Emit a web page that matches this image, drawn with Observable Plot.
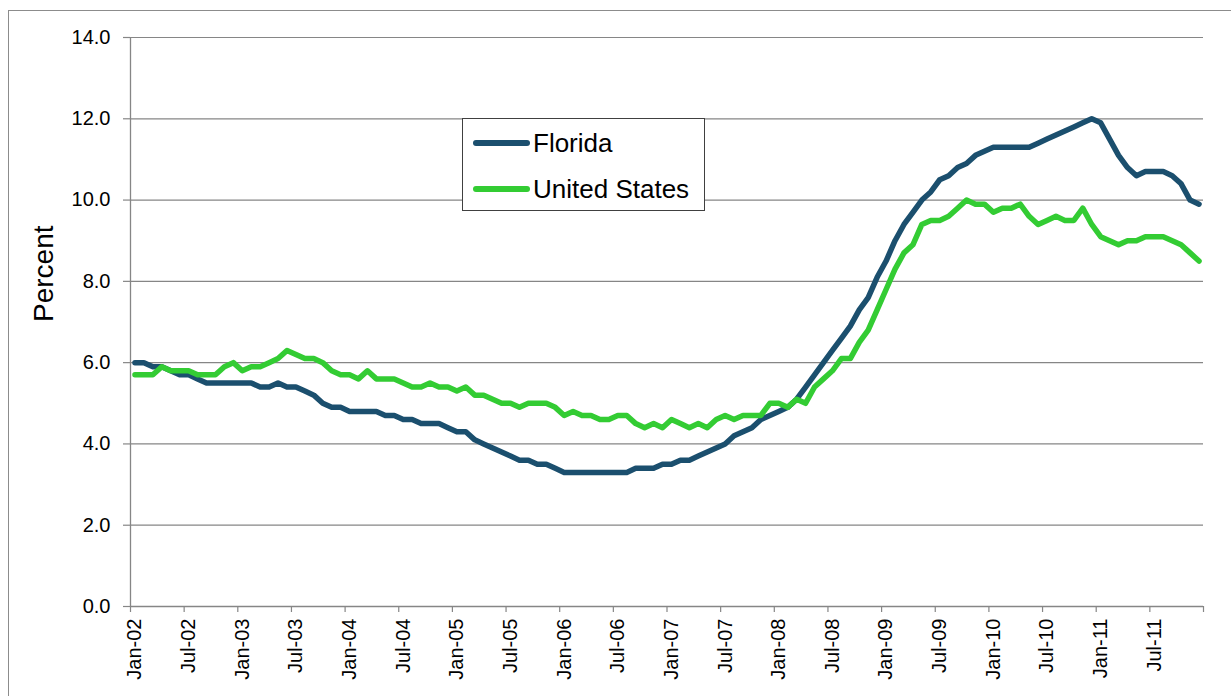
<!DOCTYPE html>
<html>
<head>
<meta charset="utf-8">
<script src="https://cdn.jsdelivr.net/npm/d3@7"></script>
<script src="https://cdn.jsdelivr.net/npm/@observablehq/plot@0.6"></script>
<style>
  html, body { margin: 0; padding: 0; background: #fff; overflow: hidden; }
  #wrap { position: relative; width: 1231px; height: 696px; font-family: "Liberation Sans", Arial, sans-serif; }
  #frame { position: absolute; left: 8px; top: 10px; width: 1300px; height: 800px; border: 1.5px solid #8c8c8c; box-sizing: border-box; }
  #chart { position: absolute; left: 0; top: 0; }
  #legend { position: absolute; left: 462px; top: 118px; width: 243px; height: 93px; border: 1.5px solid #404040; background: #fff; box-sizing: border-box; }
  .sw { position: absolute; left: 10px; width: 57px; height: 6px; border-radius: 3px; }
  .lb { position: absolute; left: 70px; font-size: 26px; line-height: 26px; color: #000; white-space: nowrap; }
</style>
</head>
<body>
<div id="wrap">
  <div id="frame"></div>
  <div id="chart"></div>
  <div id="legend"></div>
</div>
<script>
// Monthly unemployment rate, Jan 2002 - Dec 2011 (percent)
const seriesNames = ["Florida", "United States"];
const seriesColors = ["#1b4f6e", "#33cc33"];

const florida = [
  6.0, 6.0, 5.9, 5.9, 5.8, 5.7, 5.7, 5.6, 5.5, 5.5, 5.5, 5.5,   // 2002
  5.5, 5.5, 5.4, 5.4, 5.5, 5.4, 5.4, 5.3, 5.2, 5.0, 4.9, 4.9,   // 2003
  4.8, 4.8, 4.8, 4.8, 4.7, 4.7, 4.6, 4.6, 4.5, 4.5, 4.5, 4.4,   // 2004
  4.3, 4.3, 4.1, 4.0, 3.9, 3.8, 3.7, 3.6, 3.6, 3.5, 3.5, 3.4,   // 2005
  3.3, 3.3, 3.3, 3.3, 3.3, 3.3, 3.3, 3.3, 3.4, 3.4, 3.4, 3.5,   // 2006
  3.5, 3.6, 3.6, 3.7, 3.8, 3.9, 4.0, 4.2, 4.3, 4.4, 4.6, 4.7,   // 2007
  4.8, 4.9, 5.1, 5.4, 5.7, 6.0, 6.3, 6.6, 6.9, 7.3, 7.6, 8.1,   // 2008
  8.5, 9.0, 9.4, 9.7, 10.0, 10.2, 10.5, 10.6, 10.8, 10.9, 11.1, 11.2, // 2009
  11.3, 11.3, 11.3, 11.3, 11.3, 11.4, 11.5, 11.6, 11.7, 11.8, 11.9, 12.0, // 2010
  11.9, 11.5, 11.1, 10.8, 10.6, 10.7, 10.7, 10.7, 10.6, 10.4, 10.0, 9.9  // 2011
];

const unitedStates = [
  5.7, 5.7, 5.7, 5.9, 5.8, 5.8, 5.8, 5.7, 5.7, 5.7, 5.9, 6.0,   // 2002
  5.8, 5.9, 5.9, 6.0, 6.1, 6.3, 6.2, 6.1, 6.1, 6.0, 5.8, 5.7,   // 2003
  5.7, 5.6, 5.8, 5.6, 5.6, 5.6, 5.5, 5.4, 5.4, 5.5, 5.4, 5.4,   // 2004
  5.3, 5.4, 5.2, 5.2, 5.1, 5.0, 5.0, 4.9, 5.0, 5.0, 5.0, 4.9,   // 2005
  4.7, 4.8, 4.7, 4.7, 4.6, 4.6, 4.7, 4.7, 4.5, 4.4, 4.5, 4.4,   // 2006
  4.6, 4.5, 4.4, 4.5, 4.4, 4.6, 4.7, 4.6, 4.7, 4.7, 4.7, 5.0,   // 2007
  5.0, 4.9, 5.1, 5.0, 5.4, 5.6, 5.8, 6.1, 6.1, 6.5, 6.8, 7.3,   // 2008
  7.8, 8.3, 8.7, 8.9, 9.4, 9.5, 9.5, 9.6, 9.8, 10.0, 9.9, 9.9,  // 2009
  9.7, 9.8, 9.8, 9.9, 9.6, 9.4, 9.5, 9.6, 9.5, 9.5, 9.8, 9.4,   // 2010
  9.1, 9.0, 8.9, 9.0, 9.0, 9.1, 9.1, 9.1, 9.0, 8.9, 8.7, 8.5    // 2011
];

const xTickLabels = [
  "Jan-02", "Jul-02", "Jan-03", "Jul-03", "Jan-04", "Jul-04", "Jan-05", "Jul-05",
  "Jan-06", "Jul-06", "Jan-07", "Jul-07", "Jan-08", "Jul-08", "Jan-09", "Jul-09",
  "Jan-10", "Jul-10", "Jan-11", "Jul-11"
];
const yTicks = [0, 2, 4, 6, 8, 10, 12, 14];
const yLabel = "Percent";

// Build table: each month is a category; point sits at the category centre
const rows = (vals, name) => vals.map((v, i) => ({ m: i + 0.5, v, series: name }));
const flRows = rows(florida, seriesNames[0]);
const usRows = rows(unitedStates, seriesNames[1]);

const nMonths = florida.length;
const boundaryTicks = d3.range(0, nMonths + 1, 6);           // category boundaries
const labelPos = xTickLabels.map((_, k) => k * 6 + 0.5);      // category centres
const labelMap = new Map(labelPos.map((p, k) => [p, xTickLabels[k]]));

const gray = "#868686";

const chart = Plot.plot({
  width: 1231,
  height: 696,
  marginLeft: 130,
  marginRight: 28,
  marginTop: 37,
  marginBottom: 90,
  style: { fontFamily: "'Liberation Sans', Arial, sans-serif", fontSize: "20px", background: "transparent", overflow: "visible" },
  x: { type: "linear", domain: [0, nMonths] },
  y: { domain: [0, 14] },
  marks: [
    Plot.gridY(yTicks.filter(t => t > 0), { stroke: gray, strokeOpacity: 1, strokeWidth: 1.2 }),
    Plot.ruleX([0], { stroke: gray, strokeWidth: 1.3 }),
    Plot.ruleY([0], { stroke: gray, strokeWidth: 1.3 }),
    Plot.axisY(yTicks, { tickSize: 7, tickPadding: 13, tickFormat: d => d.toFixed(1), stroke: gray, strokeWidth: 1.2, fill: "#000", fontSize: 20, label: null }),
    Plot.axisX(boundaryTicks, { tickSize: 6, tickFormat: () => "", stroke: gray, strokeWidth: 1.2, label: null }),
    Plot.axisX(labelPos, { tickSize: 0, tickPadding: 12, tickRotate: -90, tickFormat: d => labelMap.get(d), fill: "#000", fontSize: 20, label: null }),
    Plot.text([yLabel], { frameAnchor: "left", rotate: -90, dx: -86, fontSize: 28, fill: "#000" }),
    Plot.line(flRows, { x: "m", y: "v", stroke: seriesColors[0], strokeWidth: 5.5, strokeLinecap: "round", strokeLinejoin: "round" }),
    Plot.line(usRows, { x: "m", y: "v", stroke: seriesColors[1], strokeWidth: 5.5, strokeLinecap: "round", strokeLinejoin: "round" })
  ]
});
document.getElementById("chart").appendChild(chart);

// Legend
const legend = document.getElementById("legend");
const swTops = [21, 67];
const lbTops = [11, 57];
seriesNames.forEach((name, k) => {
  const sw = document.createElement("div");
  sw.className = "sw";
  sw.style.top = swTops[k] + "px";
  sw.style.background = seriesColors[k];
  legend.appendChild(sw);
  const lb = document.createElement("div");
  lb.className = "lb";
  lb.style.top = lbTops[k] + "px";
  lb.textContent = name;
  legend.appendChild(lb);
});
</script>
</body>
</html>
